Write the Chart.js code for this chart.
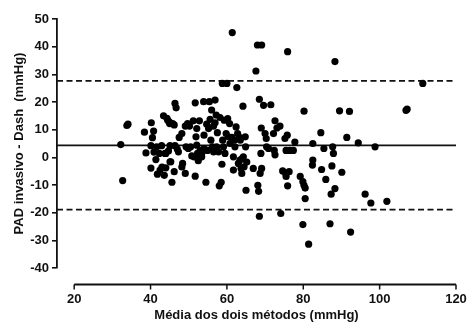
<!DOCTYPE html>
<html>
<head>
<meta charset="utf-8">
<script src="https://cdn.jsdelivr.net/npm/chart.js@4/dist/chart.umd.min.js"></script>
<style>
  html, body { margin: 0; padding: 0; background: #ffffff; }
  #wrap { width: 467px; height: 324px; position: relative; }
</style>
</head>
<body>
<div id="wrap"><canvas id="c" width="467" height="324"></canvas></div>
<script>
// ---- Data ----
const meanOfMethods = [
  32.2,32.7,33.8,34.1,38.4,38.8,40.2,40.8,40.5,40.1,40.1,40.9,41.4,41.8,42.3,42.5,42.9,43.4,44.0,44.0,
  44.5,45.0,44.7,45.1,45.3,45.6,45.8,46.2,46.4,46.7,46.2,46.4,47.0,47.5,48.2,48.4,49.1,49.1,49.7,50.2,
  49.3,49.9,50.8,51.2,51.7,51.4,51.7,51.9,52.1,52.3,52.5,52.8,53.0,50.5,52.1,52.5,53.4,53.9,54.0,54.5,
  54.7,54.9,55.4,55.6,55.8,56.0,56.2,56.5,56.9,57.2,57.5,57.8,56.5,54.0,53.4,55.2,56.9,57.3,58.2,58.0,
  58.5,58.7,58.8,59.1,59.3,59.5,60.0,60.2,60.4,60.7,60.8,58.9,59.8,61.4,61.7,61.9,62.1,62.4,62.6,62.8,
  63.0,63.3,63.5,61.3,61.7,63.7,64.2,64.3,64.8,64.9,65.0,65.2,63.9,64.5,66.9,67.6,68.0,69.1,68.5,68.1,
  68.3,68.5,68.7,68.9,69.1,69.0,69.6,70.0,70.3,70.4,70.9,71.5,72.2,72.6,72.4,72.6,73.1,73.9,74.1,74.6,
  75.2,75.5,75.8,75.9,75.9,75.5,76.5,77.4,76.3,77.8,79.2,80.2,79.9,79.9,80.2,80.5,80.5,81.4,82.5,82.5,
  82.4,84.6,84.8,85.4,85.9,87.0,87.3,87.5,87.7,87.9,88.3,88.3,89.5,90.1,91.4,92.1,92.4,94.4,96.2,97.7,
  98.8,101.9,106.9,107.2,111.3,
  43.0,43.6,48.2,45.1,41.6,43.8,47.3,44.3,44.9,63.4,64.0,75.4
];
const differences = [
  4.6,-8.4,11.5,12.0,9.1,1.6,12.5,9.5,7.1,4.2,-3.9,1.9,-0.8,-6.1,1.4,-4.6,4.2,15.0,-3.8,1.4,
  13.4,12.2,2.3,4.2,-1.6,-9.0,12.2,11.7,19.5,17.9,-5.2,4.2,3.0,7.2,8.6,-2.2,-5.8,11.3,12.2,11.3,
  3.8,3.2,0.5,13.2,19.7,0.2,-6.8,7.4,10.4,1.4,-1.2,13.2,2.5,3.8,4.4,0.2,0.2,20.1,8.0,-9.0,
  12.0,2.5,20.1,13.7,6.2,17.1,3.8,11.3,20.7,15.3,8.9,2.0,2.0,3.2,1.4,10.4,12.5,3.8,14.4,-10.3,
  -9.0,-2.5,26.7,3.8,13.4,1.4,26.7,14.0,7.4,12.2,5.0,6.2,8.6,45.1,0.2,6.2,3.8,11.0,25.2,8.6,
  -2.2,7.2,6.2,7.2,-4.6,-4.0,18.5,0.2,7.4,3.8,-11.9,-1.7,-5.8,-3.4,-4.0,31.2,40.6,40.6,21.0,-10.1,
  -12.3,-21.3,-5.8,1.4,-4.0,10.6,18.8,8.6,6.8,3.8,3.2,19.0,8.6,13.2,2.5,0.9,10.6,11.3,-20.3,-4.9,
  6.8,-6.9,8.0,-10.3,38.2,2.5,2.5,2.5,-5.2,5.5,-6.9,16.7,-24.3,-8.8,-10.1,-11.1,-14.9,-31.4,5.0,-1.0,
  -2.8,8.9,-4.4,3.2,-8.0,-24.0,-13.3,-3.1,3.8,1.4,34.6,-11.3,16.8,-5.4,7.2,16.6,-27.0,5.2,-13.3,-16.5,
  3.8,-15.9,17.0,17.4,26.7,
  -3.5,-6.5,-3.5,-1.6,3.8,1.4,2.0,14.1,12.8,-1.0,-0.5,-5.8
];
const bias = 4.3;
const upperLimit = 27.6;
const lowerLimit = -18.9;
const xTickValues = [20, 40, 60, 80, 100, 120];
const yTickValues = [-40, -30, -20, -10, 0, 10, 20, 30, 40, 50];
const xAxisMin = 15.5, xAxisMax = 120, yAxisMin = -40, yAxisMax = 50;
const xTitle = 'Média dos dois métodos (mmHg)';
const yTitle = 'PAD invasivo - Dash  (mmHg)';

// ---- Build ----
const scatterPoints = meanOfMethods.map((m, i) => ({ x: m, y: differences[i] }));
const hLine = (v) => [{ x: xAxisMin, y: v }, { x: xAxisMax, y: v }];
const INK = '#111111';
const FONT = '"Liberation Sans", Arial, Helvetica, sans-serif';

// Detached (offset) x axis, drawn through the library's x scale
const detachedXAxis = {
  id: 'detachedXAxis',
  afterDraw(chart) {
    const xs = chart.scales.x, ys = chart.scales.y;
    const ctx = chart.ctx;
    const y0 = Math.round(ys.getPixelForValue(yAxisMin)) + 16.5;
    ctx.save();
    ctx.strokeStyle = INK;
    ctx.lineWidth = 1.8;
    ctx.beginPath();
    ctx.moveTo(xs.getPixelForValue(xTickValues[0]), y0);
    ctx.lineTo(xs.getPixelForValue(xTickValues[xTickValues.length - 1]), y0);
    ctx.stroke();
    ctx.lineWidth = 1.5;
    xTickValues.forEach(v => {
      const px = xs.getPixelForValue(v);
      ctx.beginPath();
      ctx.moveTo(px, y0);
      ctx.lineTo(px, y0 + 5);
      ctx.stroke();
    });
    ctx.restore();
  }
};

new Chart(document.getElementById('c'), {
  type: 'scatter',
  data: {
    datasets: [
      {
        type: 'line', data: hLine(bias), borderColor: INK, borderWidth: 1.7,
        pointRadius: 0, fill: false, order: 3
      },
      {
        type: 'line', data: hLine(upperLimit), borderColor: INK, borderWidth: 1.7,
        borderDash: [6, 3.5], pointRadius: 0, fill: false, order: 3
      },
      {
        type: 'line', data: hLine(lowerLimit), borderColor: INK, borderWidth: 1.7,
        borderDash: [6, 3.5], pointRadius: 0, fill: false, order: 3
      },
      {
        data: scatterPoints, backgroundColor: '#000000', borderWidth: 0,
        pointRadius: 3.6, pointHoverRadius: 3.6, order: 1
      }
    ]
  },
  options: {
    responsive: false,
    animation: false,
    devicePixelRatio: 1,
    events: [],
    layout: { autoPadding: false, padding: { top: 19, right: 11, left: 0, bottom: 0 } },
    plugins: { legend: { display: false }, tooltip: { enabled: false } },
    scales: {
      x: {
        type: 'linear', min: xAxisMin, max: xAxisMax,
        afterBuildTicks(scale) { scale.ticks = xTickValues.map(v => ({ value: v })); },
        afterFit(scale) { scale.height = 56; scale.paddingLeft = 0; scale.paddingRight = 0; },
        grid: { display: false, drawTicks: false },
        border: { display: false },
        ticks: {
          color: INK, font: { family: FONT, size: 13, weight: 'bold' },
          padding: 24, maxRotation: 0, autoSkip: false
        },
        title: {
          display: true, text: xTitle, color: INK,
          font: { family: FONT, size: 13, weight: 'bold' },
          padding: { top: 0, bottom: 1 }
        }
      },
      y: {
        type: 'linear', min: yAxisMin, max: yAxisMax,
        afterBuildTicks(scale) { scale.ticks = yTickValues.map(v => ({ value: v })); },
        afterFit(scale) { scale.width = 57; scale.paddingTop = 0; scale.paddingBottom = 0; },
        grid: { display: true, drawOnChartArea: false, drawTicks: true, tickLength: 5, color: INK, lineWidth: 1.6 },
        border: { display: true, color: INK, width: 1.8 },
        ticks: {
          color: INK, font: { family: FONT, size: 13, weight: 'bold' },
          padding: 3, autoSkip: false
        },
        title: {
          display: true, text: yTitle, color: INK,
          font: { family: FONT, size: 13, weight: 'bold' },
          padding: { top: 12, bottom: 0 }
        }
      }
    }
  },
  plugins: [detachedXAxis]
});
</script>
</body>
</html>
